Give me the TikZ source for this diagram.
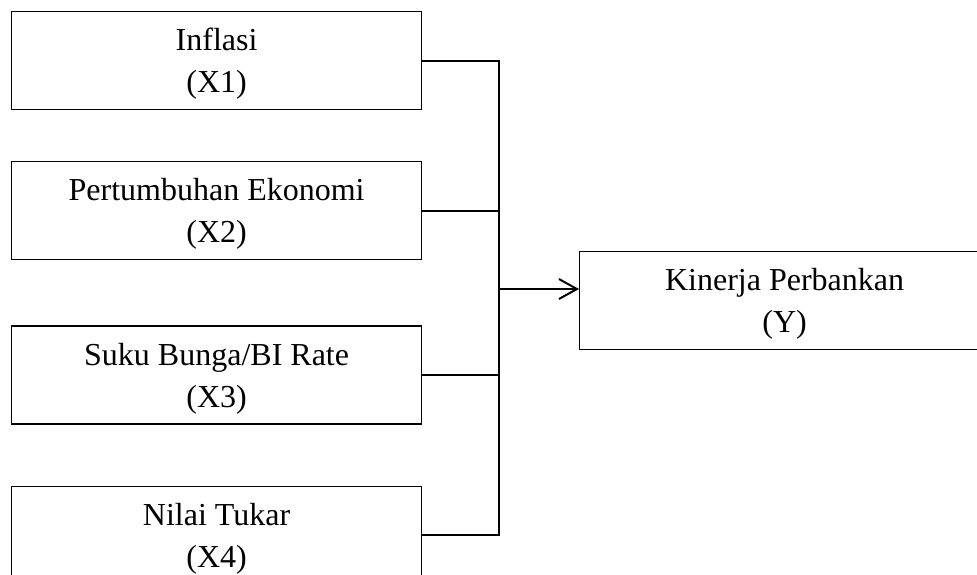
\documentclass[tikz,border=0pt]{standalone}
\usepackage{fontspec}
\setmainfont{Liberation Serif}
\usepackage{tikz}
\usetikzlibrary{positioning, arrows.meta}

\begin{document}
\begin{tikzpicture}[x=0.5pt, y=-0.5pt,
    varbox/.style={rectangle, draw, line width=0.6pt, minimum width=205pt, minimum height=49pt, inner sep=0pt, align=center, text depth=0pt, font=\fontsize{16pt}{21pt}\selectfont},
    link/.style={line width=0.9pt},
    arrow_pointer/.style={link, -{Straight Barb[length=9pt, width=10pt, line width=1pt]}}]

    \useasboundingbox (0,0) rectangle (977,574);

    % Independent variables
    \node[varbox, anchor=north west] (x1) at (11,11) {Inflasi\\(X1)};
    \node[varbox, below=25.5pt of x1] (x2) {Pertumbuhan Ekonomi\\(X2)};
    \node[varbox, below=32.5pt of x2] (x3) {Suku Bunga/BI Rate\\(X3)};
    \node[varbox, below=30.5pt of x3] (x4) {Nilai Tukar\\(X4)};

    % Dependent variable
    \node[varbox, anchor=north west] (y) at (579,251) {Kinerja Perbankan\\(Y)};

    % Lines to the bus
    \coordinate (bus) at (499,289);
    \draw[link] (x1.east) -| (bus);
    \draw[link] (x2.east) -- (x2.east -| bus);
    \draw[link] (x3.east) -- (x3.east -| bus);
    \draw[link] (x4.east) -| (bus);
    \draw[arrow_pointer] (bus) -- (bus -| y.west);
\end{tikzpicture}
\end{document}
